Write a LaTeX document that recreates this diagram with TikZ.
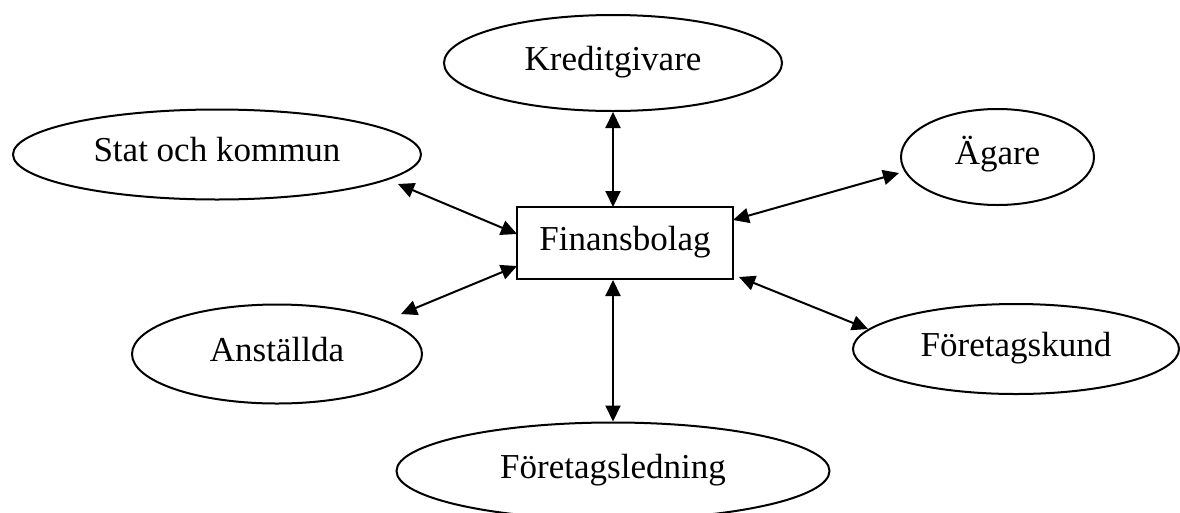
\documentclass[tikz,border=0pt]{standalone}
\usepackage{fontspec}
\setmainfont{Liberation Serif}
\usetikzlibrary{shapes.geometric,arrows.meta,calc}
\begin{document}
\begin{tikzpicture}[x=1pt,y=-1pt,
  every node/.style={font=\fontsize{35pt}{42pt}\selectfont, text height=24pt, text depth=10pt, inner sep=0pt},
  party/.style={ellipse, draw, line width=2pt},
  hub/.style={rectangle, draw, line width=2pt},
  link/.style={line width=2pt, {Triangle[length=16pt,width=15pt]}-{Triangle[length=16pt,width=15pt]}}]
\useasboundingbox (0,0) rectangle (1180,512);
\clip (0,0) rectangle (1180,512);
\node[hub, minimum width=216pt, minimum height=72pt] (fin) at (625,243) {Finansbolag};
\node[party, minimum width=338pt, minimum height=96pt] (kred) at (613,63) {Kreditgivare};
\node[party, minimum width=408pt, minimum height=90pt] (stat) at (217,154.5) {Stat och kommun};
\node[party, minimum width=193pt, minimum height=96pt] (agare) at (997.5,157) {Ägare};
\node[party, minimum width=290pt, minimum height=99pt] (anst) at (277,354) {Anställda};
\node[party, minimum width=326pt, minimum height=90pt] (kund) at (1016,349) {Företagskund};
\node[party, minimum width=433pt, minimum height=97pt] (led) at (613,471) {Företagsledning};
\draw[link] (kred.south) -- ($(fin)+(-12,-36)$);
\draw[link] ($(stat)+(181,29.5)$) -- ($(fin)+(-108,-9)$);
\draw[link] ($(agare)+(-98.5,16)$) -- ($(fin)+(108,-23)$);
\draw[link] ($(anst)+(124,-40)$) -- ($(fin)+(-108,23)$);
\draw[link] ($(fin)+(114,34)$) -- ($(kund)+(-148,-20)$);
\draw[link] ($(fin)+(-12,37)$) -- (led.north);
\end{tikzpicture}
\end{document}
